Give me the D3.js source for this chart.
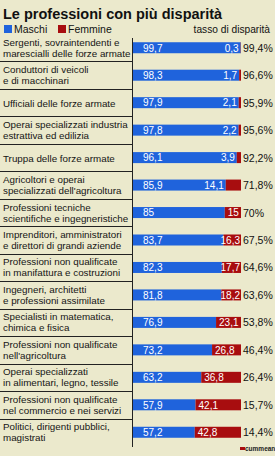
<!DOCTYPE html>
<html>
<head>
<meta charset="utf-8">
<script src="https://cdn.jsdelivr.net/npm/d3@7"></script>
<style>
  body { margin: 0; background: #ebe9cc; }
  svg { display: block; font-family: "Liberation Sans", Arial, sans-serif; }
</style>
</head>
<body>
<div id="chart"></div>
<script>
// dati
var categorie = [
    ["Sergenti, sovraintendenti e", "marescialli delle forze armate"],
    ["Conduttori di veicoli", "e di macchinari"],
    ["Ufficiali delle forze armate"],
    ["Operai specializzati industria", "estrattiva ed edilizia"],
    ["Truppa delle forze armate"],
    ["Agricoltori e operai", "specializzati dell'agricoltura"],
    ["Professioni tecniche", "scientifiche e ingegneristiche"],
    ["Imprenditori, amministratori", "e direttori di grandi aziende"],
    ["Professioni non qualificate", "in manifattura e costruzioni"],
    ["Ingegneri, architetti", "e professioni assimilate"],
    ["Specialisti in matematica,", "chimica e fisica"],
    ["Professioni non qualificate", "nell'agricoltura"],
    ["Operai specializzati", "in alimentari, legno, tessile"],
    ["Professioni non qualificate", "nel commercio e nei servizi"],
    ["Politici, dirigenti pubblici,", "magistrati"]
];
var maschi  = [99.7, 98.3, 97.9, 97.8, 96.1, 85.9, 85, 83.7, 82.3, 81.8, 76.9, 73.2, 63.2, 57.9, 57.2];
var femmine = [0.3, 1.7, 2.1, 2.2, 3.9, 14.1, 15, 16.3, 17.7, 18.2, 23.1, 26.8, 36.8, 42.1, 42.8];
var tasso   = [99.4, 96.6, 95.9, 95.6, 92.2, 71.8, 70, 67.5, 64.6, 63.6, 53.8, 46.4, 26.4, 15.7, 14.4];

var width = 275,
    height = 456,
    blu = "#1f63dc",
    rosso = "#a80d0f";

var num = function(v) { return String(v).replace(".", ","); };

var svg = d3.select("#chart").append("svg")
    .attr("width", width)
    .attr("height", height);

svg.append("rect").attr("width", width).attr("height", height).attr("fill", "#ebe9cc");

// titolo e legenda
svg.append("text")
    .attr("x", 3).attr("y", 19)
    .attr("font-size", 14.5).attr("font-weight", "bold").attr("fill", "#111")
    .text("Le professioni con più disparità");

var legenda = [{ t: "Maschi", c: blu, x: 4 }, { t: "Femmine", c: rosso, x: 58 }];
legenda.forEach(function(l) {
    svg.append("rect").attr("x", l.x).attr("y", 25).attr("width", 8).attr("height", 8).attr("fill", l.c);
    svg.append("text").attr("x", l.x + 10).attr("y", 33)
        .attr("font-size", 10.5).attr("fill", "#111").text(l.t);
});
svg.append("text")
    .attr("x", 270).attr("y", 33).attr("text-anchor", "end")
    .attr("font-size", 10.2).attr("fill", "#111")
    .text("tasso di disparità");

var idx = d3.range(categorie.length);

var x = d3.scaleLinear().domain([0, 100]).range([133, 241]);
var y = d3.scaleBand().domain(idx).range([34, 446]);
var barH = 11;
var c = function(i) { return y(i) + y.bandwidth() / 2; };

// separatori
svg.selectAll("line.sep")
    .data(idx.slice(1))
    .enter().append("line")
    .attr("class", "sep")
    .attr("x1", 0).attr("x2", 132)
    .attr("y1", function(i) { return Math.round(y(i)) + 0.5; })
    .attr("y2", function(i) { return Math.round(y(i)) + 0.5; })
    .attr("stroke", "#222").attr("stroke-width", 1);

// asse
svg.append("line")
    .attr("x1", 132.5).attr("x2", 132.5)
    .attr("y1", 38).attr("y2", 447)
    .attr("stroke", "#222").attr("stroke-width", 1);

// etichette
var etichette = svg.selectAll("text.lab")
    .data(idx)
    .enter().append("text")
    .attr("class", "lab")
    .attr("font-size", 9.8).attr("fill", "#151515");

etichette.each(function(i) {
    var righe = categorie[i];
    var t = d3.select(this);
    righe.forEach(function(r, k) {
        var base = righe.length == 1 ? c(i) + 4 : c(i) - 2 + k * 11;
        t.append("tspan").attr("x", 3).attr("y", base).text(r);
    });
});

// barre
svg.selectAll("rect.m")
    .data(idx)
    .enter().append("rect")
    .attr("class", "m")
    .attr("x", x(0))
    .attr("y", function(i) { return c(i) - barH / 2; })
    .attr("width", function(i) { return x(maschi[i]) - x(0); })
    .attr("height", barH)
    .attr("fill", blu);

svg.selectAll("rect.f")
    .data(idx)
    .enter().append("rect")
    .attr("class", "f")
    .attr("x", function(i) { return x(maschi[i]); })
    .attr("y", function(i) { return c(i) - barH / 2; })
    .attr("width", function(i) { return x(100) - x(maschi[i]); })
    .attr("height", barH)
    .attr("fill", rosso);

// valori
svg.selectAll("text.vm")
    .data(idx)
    .enter().append("text")
    .attr("class", "vm")
    .attr("x", x(0) + 10)
    .attr("y", function(i) { return c(i) + 3.8; })
    .attr("font-size", 10).attr("fill", "#fff")
    .text(function(i) { return num(maschi[i]); });

svg.selectAll("text.vf")
    .data(idx)
    .enter().append("text")
    .attr("class", "vf")
    .attr("y", function(i) { return c(i) + 3.8; })
    .attr("font-size", 10).attr("fill", "#fff")
    .text(function(i) { return num(femmine[i]); })
    .each(function(i) {
        var w = this.getComputedTextLength();
        var inizio = x(maschi[i]);
        var px;
        if (femmine[i] < 15) {
            px = inizio - 2 - w;
        } else {
            px = Math.min(inizio + 3, x(100) - 1 - w);
        }
        d3.select(this).attr("x", px);
    });

svg.selectAll("text.tasso")
    .data(idx)
    .enter().append("text")
    .attr("class", "tasso")
    .attr("x", 243)
    .attr("y", function(i) { return c(i) + 4; })
    .attr("font-size", 10.5).attr("fill", "#111")
    .text(function(i) { return num(tasso[i]) + "%"; });

// logo
svg.append("rect").attr("x", 240).attr("y", 447).attr("width", 5).attr("height", 3).attr("fill", rosso);
svg.append("text")
    .attr("x", 245).attr("y", 451)
    .attr("font-size", 6.5).attr("font-weight", "bold").attr("fill", "#222")
    .text("cummean");
</script>
</body>
</html>
